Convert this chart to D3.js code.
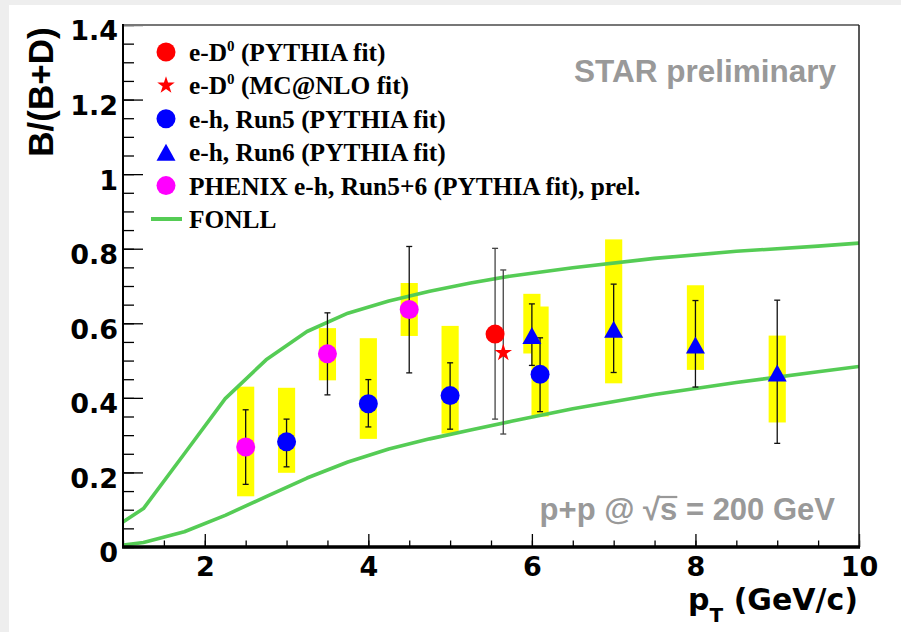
<!DOCTYPE html>
<html>
<head>
<meta charset="utf-8">
<script src="https://cdn.jsdelivr.net/npm/d3@7"></script>
<style>
  html, body { margin: 0; padding: 0; background: #fff; }
  svg { display: block; }
</style>
</head>
<body>
<div id="chart"></div>
<script>
// FONLL band (upper / lower edge)
const fonllPt = [1, 1.25, 1.75, 2.25, 2.75, 3.25, 3.75, 4.25, 4.75, 5.25, 5.75, 6.5, 7.5, 8.5, 9.5, 10];
const fonllUpper = [0.067, 0.103, 0.25, 0.398, 0.502, 0.578, 0.627, 0.66, 0.686, 0.708, 0.727, 0.749, 0.774, 0.793, 0.807, 0.815];
const fonllLower = [0.005, 0.012, 0.041, 0.085, 0.135, 0.185, 0.228, 0.263, 0.29, 0.314, 0.337, 0.371, 0.409, 0.441, 0.47, 0.484];

// [pT, value, stat low, stat high, sys low, sys high]
const eD0Pythia = [[5.55, 0.571, 0.343, 0.801]];
const eD0McNlo = [[5.65, 0.521, 0.303, 0.743]];
const ehRun5 = [
  [3.0, 0.282, 0.215, 0.343, 0.199, 0.427],
  [4.0, 0.384, 0.322, 0.449, 0.29, 0.56],
  [5.0, 0.406, 0.316, 0.494, 0.304, 0.593],
  [6.1, 0.463, 0.363, 0.561, 0.35, 0.645]
];
const ehRun6 = [
  [6.0, 0.567, 0.487, 0.652, 0.519, 0.679],
  [7.0, 0.584, 0.468, 0.705, 0.439, 0.825],
  [8.0, 0.542, 0.429, 0.661, 0.475, 0.702],
  [9.0, 0.467, 0.278, 0.662, 0.334, 0.567]
];
const phenixEh = [
  [2.5, 0.268, 0.168, 0.368, 0.136, 0.43],
  [3.5, 0.518, 0.408, 0.628, 0.447, 0.587],
  [4.5, 0.637, 0.467, 0.806, 0.566, 0.708]
];

const xMajor = [2, 4, 6, 8, 10];
const xMinor = d3.range(1, 10.001, 0.5);
const yMajor = [0, 0.2, 0.4, 0.6, 0.8, 1, 1.2, 1.4];
const yMinor = d3.range(0, 1.4001, 0.05);

const legendItems = [
  { key: "circle", color: "#ff0000", text: ["e-D", "0", " (PYTHIA fit)"] },
  { key: "star", color: "#ff0000", text: ["e-D", "0", " (MC@NLO fit)"] },
  { key: "circle", color: "#0000ff", text: ["e-h, Run5 (PYTHIA fit)"] },
  { key: "triangle", color: "#0000ff", text: ["e-h, Run6 (PYTHIA fit)"] },
  { key: "circle", color: "#ff00ff", text: ["PHENIX e-h, Run5+6 (PYTHIA fit), prel."] },
  { key: "line", color: "#55cc55", text: ["FONLL"] }
];

const W = 901, H = 632;
const green = "#55cc55";

const svg = d3.select("#chart").append("svg").attr("width", W).attr("height", H);

// slide background
svg.append("rect").attr("width", W).attr("height", H).attr("fill", "#eeeeee");
svg.append("rect").attr("x", 9).attr("y", 5).attr("width", W - 9).attr("height", H - 5).attr("fill", "#fff");

const x = d3.scaleLinear().domain([1, 10]).range([123, 859]);
const y = d3.scaleLinear().domain([0, 1.4]).range([547, 25]);

svg.append("clipPath").attr("id", "clip")
  .append("rect").attr("x", 123).attr("y", 25).attr("width", 736).attr("height", 522);

// axes (ticks point inward, like ROOT)
function styleAxis(g) {
  g.select(".domain").remove();
  g.selectAll("line").attr("stroke", "#000").attr("stroke-width", 1.3);
}

svg.append("g").attr("transform", "translate(0,547)")
  .call(d3.axisBottom(x).tickValues(xMinor).tickSize(-6.5).tickFormat(""))
  .call(styleAxis);
const xAx = svg.append("g").attr("transform", "translate(0,547)")
  .call(d3.axisBottom(x).tickValues(xMajor).tickSize(-13).tickFormat(d3.format("~g")))
  .call(styleAxis);
xAx.selectAll("text")
  .attr("y", 29).attr("dy", null)
  .attr("font-family", "DejaVu Sans").attr("font-weight", "bold")
  .attr("font-size", 27).attr("fill", "#000");

svg.append("g").attr("transform", "translate(123,0)")
  .call(d3.axisLeft(y).tickValues(yMinor).tickSize(-11).tickFormat(""))
  .call(styleAxis);
const yAx = svg.append("g").attr("transform", "translate(123,0)")
  .call(d3.axisLeft(y).tickValues(yMajor).tickSize(-20).tickPadding(5).tickFormat(d3.format("~g")))
  .call(styleAxis);
yAx.selectAll("text")
  .attr("dy", "0.55em")
  .attr("font-family", "DejaVu Sans").attr("font-weight", "bold")
  .attr("font-size", 27).attr("fill", "#000");

const plot = svg.append("g").attr("clip-path", "url(#clip)");

// systematic boxes
const boxHalf = 0.105;
const sysRows = [].concat(phenixEh, ehRun5, ehRun6);
plot.append("g").selectAll("rect")
  .data(sysRows)
  .join("rect")
  .attr("x", (d) => x(d[0] - boxHalf))
  .attr("width", (d) => x(d[0] + boxHalf) - x(d[0] - boxHalf))
  .attr("y", (d) => y(d[5]))
  .attr("height", (d) => y(d[4]) - y(d[5]))
  .attr("fill", "#ffff00");

// FONLL curves
const line = d3.line().x((d) => x(d[0])).y((d) => y(d[1]));
[fonllUpper, fonllLower].forEach((ys) => {
  plot.append("path")
    .datum(fonllPt.map((p, i) => [p, ys[i]]))
    .attr("d", line)
    .attr("fill", "none")
    .attr("stroke", green)
    .attr("stroke-width", 3.6)
    .attr("stroke-linejoin", "round");
});

// stat error bars
function errorBars(rows, color) {
  const g = plot.append("g").attr("stroke", color).attr("stroke-width", 1.3);
  rows.forEach((d) => {
    const cx = x(d[0]);
    g.append("line").attr("x1", cx).attr("x2", cx).attr("y1", y(d[2])).attr("y2", y(d[3]));
    [d[2], d[3]].forEach((v) => {
      g.append("line").attr("x1", cx - 3).attr("x2", cx + 3).attr("y1", y(v)).attr("y2", y(v));
    });
  });
}
errorBars(phenixEh, "#111");
errorBars(ehRun5, "#111");
errorBars(ehRun6, "#111");
errorBars(eD0Pythia, "#444");
errorBars(eD0McNlo, "#444");

// markers
function trianglePath(cx, cy) {
  const w = 9.5, h = 17;
  return `M${cx},${cy - h / 2}L${cx + w},${cy + h / 2}L${cx - w},${cy + h / 2}Z`;
}
const star = d3.symbol().type(d3.symbolStar).size(95);

function drawMarker(g, key, cx, cy, color) {
  if (key === "circle") {
    g.append("circle").attr("cx", cx).attr("cy", cy).attr("r", 9.5).attr("fill", color);
  } else if (key === "star") {
    g.append("path").attr("d", star()).attr("transform", `translate(${cx},${cy})`).attr("fill", color);
  } else if (key === "triangle") {
    g.append("path").attr("d", trianglePath(cx, cy)).attr("fill", color);
  } else if (key === "line") {
    g.append("line").attr("x1", cx - 15).attr("x2", cx + 16).attr("y1", cy).attr("y2", cy)
      .attr("stroke", color).attr("stroke-width", 4);
  }
}

const marks = plot.append("g");
phenixEh.forEach((d) => drawMarker(marks, "circle", x(d[0]), y(d[1]), "#ff00ff"));
ehRun5.forEach((d) => drawMarker(marks, "circle", x(d[0]), y(d[1]), "#0000ff"));
ehRun6.forEach((d) => drawMarker(marks, "triangle", x(d[0]), y(d[1]), "#0000ff"));
eD0Pythia.forEach((d) => drawMarker(marks, "circle", x(d[0]), y(d[1]), "#ff0000"));
eD0McNlo.forEach((d) => drawMarker(marks, "star", x(d[0]), y(d[1]), "#ff0000"));

// frame
svg.append("line").attr("x1", 123).attr("x2", 859).attr("y1", 25).attr("y2", 25)
  .attr("stroke", "#777").attr("stroke-width", 2);
svg.append("line").attr("x1", 859).attr("x2", 859).attr("y1", 25).attr("y2", 547)
  .attr("stroke", "#222").attr("stroke-width", 1.5);
svg.append("line").attr("x1", 123).attr("x2", 123).attr("y1", 24).attr("y2", 548)
  .attr("stroke", "#000").attr("stroke-width", 2);
svg.append("line").attr("x1", 122).attr("x2", 860).attr("y1", 547).attr("y2", 547)
  .attr("stroke", "#000").attr("stroke-width", 3.5);

// legend
const leg = svg.append("g");
legendItems.forEach((item, i) => {
  const cy = 52 + i * 33.4;
  drawMarker(leg, item.key, 166, cy, item.color);
  const t = leg.append("text")
    .attr("x", 189).attr("y", cy + 9)
    .attr("font-family", "Liberation Serif, Times New Roman, serif")
    .attr("font-weight", "bold").attr("font-size", 25.4).attr("fill", "#000");
  if (item.text.length === 3) {
    t.append("tspan").text(item.text[0]);
    t.append("tspan").attr("dy", -10).attr("font-size", 15).text(item.text[1]);
    t.append("tspan").attr("dy", 10).text(item.text[2]);
  } else {
    t.text(item.text[0]);
  }
});

// annotations
svg.append("text")
  .attr("x", 836).attr("y", 82).attr("text-anchor", "end")
  .attr("font-family", "Liberation Sans, Arial, sans-serif").attr("font-weight", "bold")
  .attr("font-size", 31.5).attr("fill", "#999")
  .text("STAR preliminary");

const energy = svg.append("text")
  .attr("x", 835).attr("y", 520).attr("text-anchor", "end")
  .attr("font-family", "Liberation Sans, Arial, sans-serif").attr("font-weight", "bold")
  .attr("font-size", 31).attr("fill", "#999");
energy.append("tspan").text("p+p @ \u221A");
energy.append("tspan").text("s");
energy.append("tspan").text(" = 200 GeV");
{
  const idx = "p+p @ \u221A".length;
  const ext = energy.node().getExtentOfChar(idx);
  const rad = energy.node().getExtentOfChar(idx - 1);
  svg.append("line")
    .attr("x1", rad.x + rad.width - 2).attr("x2", ext.x + ext.width)
    .attr("y1", y(0) - 50).attr("y2", y(0) - 50)
    .attr("stroke", "#999").attr("stroke-width", 2.2);
}

// axis titles
const xt = svg.append("text")
  .attr("x", 858).attr("y", 610).attr("text-anchor", "end")
  .attr("font-family", "DejaVu Sans").attr("font-weight", "bold")
  .attr("font-size", 30).attr("fill", "#000");
xt.append("tspan").text("p");
xt.append("tspan").attr("dy", 12).attr("font-size", 20).text("T");
xt.append("tspan").attr("dy", -12).text(" (GeV/c)");

svg.append("text")
  .attr("transform", "translate(53,92) rotate(-90)")
  .attr("text-anchor", "middle")
  .attr("font-family", "Liberation Sans, Arial, sans-serif").attr("font-weight", "bold")
  .attr("font-size", 35).attr("fill", "#000")
  .text("B/(B+D)");
</script>
</body>
</html>
